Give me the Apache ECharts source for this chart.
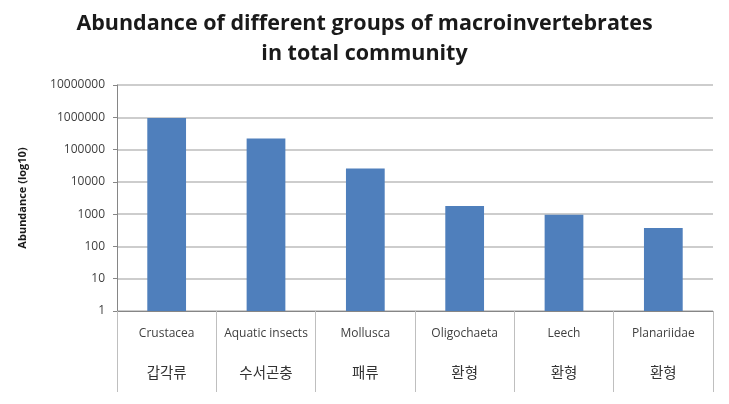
<!DOCTYPE html>
<html>
<head>
<meta charset="utf-8">
<script src="https://cdn.jsdelivr.net/npm/echarts@6/dist/echarts.min.js"></script>
<style>
html,body{margin:0;padding:0;background:#fff;}
#chart{width:729px;height:404px;}
</style>
</head>
<body>
<div id="chart"></div>
<script>
const categoriesEn = ['Crustacea', 'Aquatic insects', 'Mollusca', 'Oligochaeta', 'Leech', 'Planariidae'];
const categoriesKo = ['갑각류', '수서곤충', '패류', '환형', '환형', '환형'];
const abundance = [950000, 220000, 26000, 1800, 950, 370];
const titleLines = ['Abundance of different groups of macroinvertebrates', 'in total community'];
const yAxisName = 'Abundance (log10)';

const chart = echarts.init(document.getElementById('chart'));
chart.setOption({
  backgroundColor: '#fff',
  animation: false,
  title: {
    text: titleLines.join('\n'),
    left: 'center',
    top: 4,
    textStyle: {
      fontFamily: 'Open Sans',
      fontWeight: 'bold',
      fontSize: 21.5,
      lineHeight: 30,
      color: '#1a1a1a'
    }
  },
  grid: { left: 117, right: 16, top: 85, bottom: 93, containLabel: false },
  xAxis: {
    type: 'category',
    data: categoriesEn.map((e, i) => e + '\n' + categoriesKo[i]),
    axisLine: { lineStyle: { color: '#868686', width: 1 } },
    axisTick: { show: true, length: 81, lineStyle: { color: '#bfbfbf', width: 1 } },
    axisLabel: {
      interval: 0,
      margin: 4,
      formatter: function (v) {
        const p = v.split('\n');
        return '{en|' + p[0] + '}\n{ko|' + p[1] + '}';
      },
      rich: {
        en: { fontFamily: 'Open Sans', fontSize: 12, lineHeight: 38, color: '#404040' },
        ko: { fontFamily: 'Noto Sans CJK KR', fontSize: 14.5, lineHeight: 38, color: '#333' }
      }
    }
  },
  yAxis: {
    type: 'log',
    logBase: 10,
    min: 1,
    max: 10000000,
    name: yAxisName,
    nameLocation: 'middle',
    nameGap: 89,
    nameRotate: 90,
    nameTextStyle: { fontFamily: 'Open Sans', fontWeight: 'bold', fontSize: 11, color: '#1a1a1a' },
    axisLine: { show: true, lineStyle: { color: '#868686', width: 1 } },
    axisTick: { show: true, length: 4, lineStyle: { color: '#868686' } },
    axisLabel: {
      margin: 12,
      fontFamily: 'Open Sans',
      fontSize: 12,
      color: '#404040',
      formatter: function (v) { return String(Math.round(v)); }
    },
    splitLine: { show: true, lineStyle: { color: '#bdbdbd', width: 1.5 } }
  },
  series: [{
    type: 'bar',
    data: abundance,
    barWidth: '39%',
    itemStyle: { color: '#4f7fbc' }
  }]
});
</script>
</body>
</html>
